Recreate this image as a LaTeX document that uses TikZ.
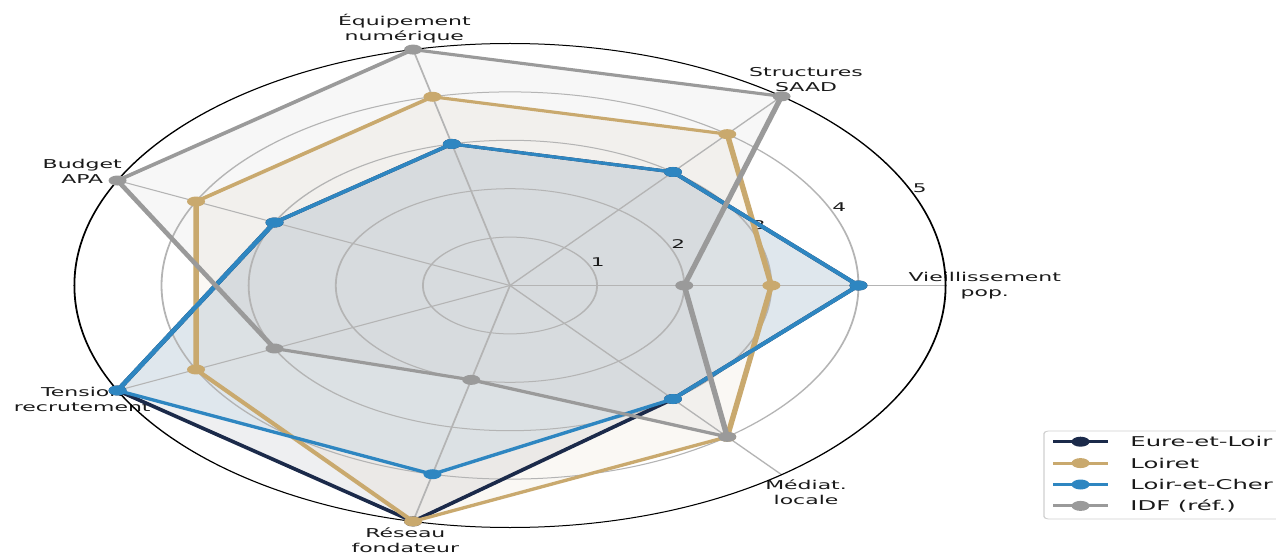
\documentclass[tikz,border=0pt]{standalone}
\usepackage{fontspec}
\setmainfont{DejaVu Sans}
\definecolor{eure}{HTML}{1B2A4A}
\definecolor{loiret}{HTML}{C9A96E}
\definecolor{loircher}{HTML}{2E86C1}
\definecolor{idf}{HTML}{9A9A9A}
\definecolor{gridc}{HTML}{B4B4B4}
\definecolor{legc}{HTML}{D0D0D0}
\definecolor{labc}{HTML}{1A1A1A}
\tikzset{
  gridline/.style={draw=gridc, line width=1.0pt},
  spine/.style={draw=black, line width=1.0pt},
  series/.style={draw=#1, line width=3.1pt, line join=round},
  area/.style={fill=#1, fill opacity=0.075},
  mk/.style={circle, fill=#1, draw=none, inner sep=0pt, minimum size=10pt},
  axlab/.style={align=center, inner sep=0pt, text=labc, font=\fontsize{12.2}{15}\selectfont},
  ticklab/.style={anchor=south west, inner sep=0pt, text=labc, font=\fontsize{12}{14}\selectfont},
  legtext/.style={anchor=base west, inner sep=0pt, text=labc, font=\fontsize{13.5}{16}\selectfont},
  legframe/.style={draw=legc, fill=white, fill opacity=0.8, line width=0.8pt, rounded corners=2.5pt},
}
\begin{document}
\begin{tikzpicture}
\useasboundingbox (0pt,0pt) rectangle (1276pt,555pt);
\fill[white] (0pt,0pt) rectangle (1276pt,555pt);
\begin{scope}[transform canvas={xscale=1.8}, x=1pt, y=1pt]
 \begin{scope}[shift={(283.33pt,269.5pt)}, x=48.4pt, y=48.4pt]
   \coordinate (O) at (0,0);
   \foreach \v [count=\i from 0] in {4,3,3,3,5,5,3} {\coordinate (E\i) at ({\i*360/7}:\v);}
   \foreach \v [count=\i from 0] in {3,4,4,4,4,5,4} {\coordinate (L\i) at ({\i*360/7}:\v);}
   \foreach \v [count=\i from 0] in {4,3,3,3,5,4,3} {\coordinate (C\i) at ({\i*360/7}:\v);}
   \foreach \v [count=\i from 0] in {2,5,5,5,3,2,4} {\coordinate (I\i) at ({\i*360/7}:\v);}
   % fills
   \fill[area=eure] (E0)--(E1)--(E2)--(E3)--(E4)--(E5)--(E6)--cycle;
   \fill[area=loiret] (L0)--(L1)--(L2)--(L3)--(L4)--(L5)--(L6)--cycle;
   \fill[area=loircher] (C0)--(C1)--(C2)--(C3)--(C4)--(C5)--(C6)--cycle;
   \fill[area=idf] (I0)--(I1)--(I2)--(I3)--(I4)--(I5)--(I6)--cycle;
   % grid
   \foreach \k in {1,2,3,4} {\draw[gridline] (O) circle[radius=\k*48.4pt];}
   \foreach \i in {0,...,6} {\coordinate (S\i) at ({\i*360/7}:5); \draw[gridline] (O) -- (S\i);}
   % radial tick labels
   \foreach \k in {1,...,5} {\node[ticklab] (t\k) at (22.5:\k) {\k};}
   % axis labels
   \node[axlab] (lab0) at ({0*360/7}:5.45) {Vieillissement\\pop.};
   \node[axlab] (lab1) at ({1*360/7}:5.45) {Structures\\SAAD};
   \node[axlab] (lab2) at ({2*360/7}:5.45) {Équipement\\numérique};
   \node[axlab] (lab3) at ({3*360/7}:5.45) {Budget\\APA};
   \node[axlab] (lab4) at ({4*360/7}:5.45) {Tension\\recrutement};
   \node[axlab] (lab5) at ({5*360/7}:5.40) {Réseau\\fondateur};
   \node[axlab] (lab6) at ({6*360/7}:5.45) {Médiat.\\locale};
   % outer spine
   \draw[spine] (O) circle[radius=242pt];
   % series
   \draw[series=eure] (E0)--(E1)--(E2)--(E3)--(E4)--(E5)--(E6)--cycle;
   \foreach \i in {0,...,6} {\node[mk=eure] (mE\i) at (E\i) {};}
   \draw[series=loiret] (L0)--(L1)--(L2)--(L3)--(L4)--(L5)--(L6)--cycle;
   \foreach \i in {0,...,6} {\node[mk=loiret] (mL\i) at (L\i) {};}
   \draw[series=loircher] (C0)--(C1)--(C2)--(C3)--(C4)--(C5)--(C6)--cycle;
   \foreach \i in {0,...,6} {\node[mk=loircher] (mC\i) at (C\i) {};}
   \draw[series=idf] (I0)--(I1)--(I2)--(I3)--(I4)--(I5)--(I6)--cycle;
   \foreach \i in {0,...,6} {\node[mk=idf] (mI\i) at (I\i) {};}
 \end{scope}
 % legend
 \draw[legframe] (580,36) rectangle (735,124);
 \foreach \c/\t/\y [count=\n] in {eure/Eure-et-Loir/113.3, loiret/Loiret/91.9, loircher/Loir-et-Cher/70.5, idf/IDF (réf.)/49.1} {
   \coordinate (ga\n) at (585,\y);
   \coordinate (gb\n) at (615.6,\y);
   \draw[series=\c] (ga\n) -- (gb\n);
   \node[mk=\c] (gm\n) at (600.3,\y) {};
   \node[legtext] (gt\n) at (627.8,\y-4.9) {\t};
 }
\end{scope}
\end{tikzpicture}
\end{document}
